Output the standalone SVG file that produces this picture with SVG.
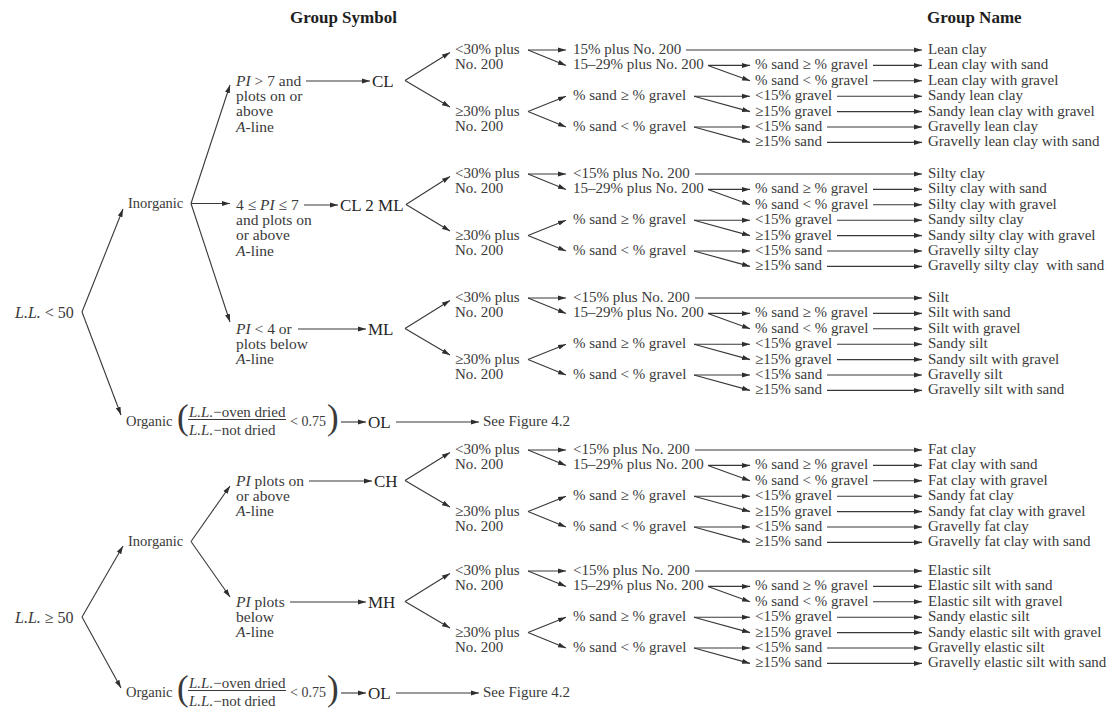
<svg xmlns="http://www.w3.org/2000/svg" width="1118" height="712" viewBox="0 0 1118 712">
  <style>
    text { font-family: "Liberation Serif", "Times New Roman", serif; font-size: 15px; fill: #3a3a3a; }
    .hd { font-size: 17px; font-weight: bold; fill: #1e1e1e; }
    .sym { font-size: 17px; fill: #262626; }
    .pi { font-size: 15.5px; }
    .ll { font-size: 16px; }
    .inorg { font-size: 14.5px; }
    .par { font-size: 35px; }
    .sm { font-size: 14px; }
    .i { font-style: italic; }
    .c { stroke: #383838; stroke-width: 1.1; fill: none; marker-end: url(#ah); }
    .bar { stroke: #3a3a3a; stroke-width: 1; fill: none; }
  </style>
  <defs>
    <marker id="ah" viewBox="0 0 8 6" refX="8" refY="3" markerWidth="8" markerHeight="6" markerUnits="userSpaceOnUse" orient="auto">
      <path d="M0,0.5 L8,3 L0,5.5 z" fill="#2e2e2e"/>
    </marker>
  </defs>
  <rect width="1118" height="712" fill="#ffffff"/>

  <!-- column headers -->
  <g id="hdr-symbol"><text class="hd" x="290" y="23">Group Symbol</text></g>
  <g id="hdr-name"><text class="hd" x="927" y="23">Group Name</text></g>

  <!-- liquid limit roots -->
  <g id="ll-lt50"><text class="ll" x="15" y="317.5"><tspan class="i">L.L.</tspan> &lt; 50</text></g>
  <g id="ll-ge50"><text class="ll" x="15" y="622.5"><tspan class="i">L.L.</tspan> ≥ 50</text></g>

  <g id="inorganic-low"><text class="inorg" x="128" y="208">Inorganic</text></g>
  <g id="inorganic-high"><text class="inorg" x="128" y="546">Inorganic</text></g>

  <!-- organic branches -->
  <g id="organic-low">
    <text class="inorg" x="126" y="426">Organic</text>
    <text class="par" x="177" y="429.3">(</text>
    <text x="189" y="417.4"><tspan class="i">L.L.</tspan>−oven dried</text>
    <path class="bar" d="M188,419.5 H286"/>
    <text x="189" y="434.7"><tspan class="i">L.L.</tspan>−not dried</text>
    <text class="sm" x="290" y="426">&lt; 0.75</text>
    <text class="par" x="327" y="429.3">)</text>
  </g>
  <g id="ol-low"><text class="sym" x="368" y="427.5">OL</text></g>
  <g id="seefig-low"><text x="483" y="426">See Figure 4.2</text></g>

  <g id="organic-high">
    <text class="inorg" x="126" y="697">Organic</text>
    <text class="par" x="177" y="700.3">(</text>
    <text x="189" y="688.4"><tspan class="i">L.L.</tspan>−oven dried</text>
    <path class="bar" d="M188,690.5 H286"/>
    <text x="189" y="705.7"><tspan class="i">L.L.</tspan>−not dried</text>
    <text class="sm" x="290" y="697">&lt; 0.75</text>
    <text class="par" x="327" y="700.3">)</text>
  </g>
  <g id="ol-high"><text class="sym" x="368" y="698.5">OL</text></g>
  <g id="seefig-high"><text x="483" y="697">See Figure 4.2</text></g>

  <!-- plasticity conditions -->
  <g id="pi-cl">
    <text class="pi" x="236" y="85.5"><tspan class="i">PI</tspan> &gt; 7 and</text>
    <text class="pi" x="236" y="100.9">plots on or</text>
    <text class="pi" x="236" y="116.3">above</text>
    <text class="pi" x="236" y="131.7"><tspan class="i">A</tspan>-line</text>
  </g>
  <g id="pi-clml">
    <text class="pi" x="236" y="209.5">4 ≤ <tspan class="i">PI</tspan> ≤ 7</text>
    <text class="pi" x="236" y="224.9">and plots on</text>
    <text class="pi" x="236" y="240.3">or above</text>
    <text class="pi" x="236" y="255.7"><tspan class="i">A</tspan>-line</text>
  </g>
  <g id="pi-ml">
    <text class="pi" x="236" y="333.5"><tspan class="i">PI</tspan> &lt; 4 or</text>
    <text class="pi" x="236" y="348.9">plots below</text>
    <text class="pi" x="236" y="364.3"><tspan class="i">A</tspan>-line</text>
  </g>
  <g id="pi-ch">
    <text class="pi" x="236" y="485.5"><tspan class="i">PI</tspan> plots on</text>
    <text class="pi" x="236" y="500.9">or above</text>
    <text class="pi" x="236" y="516.3"><tspan class="i">A</tspan>-line</text>
  </g>
  <g id="pi-mh">
    <text class="pi" x="236" y="606.5"><tspan class="i">PI</tspan> plots</text>
    <text class="pi" x="236" y="621.9">below</text>
    <text class="pi" x="236" y="637.3"><tspan class="i">A</tspan>-line</text>
  </g>

  <!-- group symbols -->
  <g id="sym-cl"><text class="sym" x="372" y="86.5">CL</text></g>
  <g id="sym-clml"><text class="sym" x="340" y="210.5">CL 2 ML</text></g>
  <g id="sym-ml"><text class="sym" x="368" y="334.5">ML</text></g>
  <g id="sym-ch"><text class="sym" x="374" y="486.5">CH</text></g>
  <g id="sym-mh"><text class="sym" x="368" y="607.5">MH</text></g>

  <!-- ===== CL block ===== -->
  <g id="cl-fines-lt30"><text x="455" y="54">&lt;30% plus</text><text x="455" y="69.4">No. 200</text></g>
  <g id="cl-fines-ge30"><text x="455" y="115.6">≥30% plus</text><text x="455" y="131">No. 200</text></g>
  <g id="cl-a"><text x="573" y="54">15% plus No. 200</text></g>
  <g id="cl-b"><text x="573" y="69.4">15–29% plus No. 200</text></g>
  <g id="cl-c"><text x="573" y="100.2">% sand ≥ % gravel</text></g>
  <g id="cl-d"><text x="573" y="131">% sand &lt; % gravel</text></g>
  <g id="cl-e1"><text x="755" y="69.4">% sand ≥ % gravel</text></g>
  <g id="cl-e2"><text x="755" y="84.8">% sand &lt; % gravel</text></g>
  <g id="cl-e3"><text x="755" y="100.2">&lt;15% gravel</text></g>
  <g id="cl-e4"><text x="755" y="115.6">≥15% gravel</text></g>
  <g id="cl-e5"><text x="755" y="131">&lt;15% sand</text></g>
  <g id="cl-e6"><text x="755" y="146.4">≥15% sand</text></g>
  <g id="cl-n0"><text x="928" y="54">Lean clay</text></g>
  <g id="cl-n1"><text x="928" y="69.4">Lean clay with sand</text></g>
  <g id="cl-n2"><text x="928" y="84.8">Lean clay with gravel</text></g>
  <g id="cl-n3"><text x="928" y="100.2">Sandy lean clay</text></g>
  <g id="cl-n4"><text x="928" y="115.6">Sandy lean clay with gravel</text></g>
  <g id="cl-n5"><text x="928" y="131">Gravelly lean clay</text></g>
  <g id="cl-n6"><text x="928" y="146.4">Gravelly lean clay with sand</text></g>

  <!-- ===== CL-ML block ===== -->
  <g id="clml-fines-lt30"><text x="455" y="178">&lt;30% plus</text><text x="455" y="193.4">No. 200</text></g>
  <g id="clml-fines-ge30"><text x="455" y="239.6">≥30% plus</text><text x="455" y="255">No. 200</text></g>
  <g id="clml-a"><text x="573" y="178">&lt;15% plus No. 200</text></g>
  <g id="clml-b"><text x="573" y="193.4">15–29% plus No. 200</text></g>
  <g id="clml-c"><text x="573" y="224.2">% sand ≥ % gravel</text></g>
  <g id="clml-d"><text x="573" y="255">% sand &lt; % gravel</text></g>
  <g id="clml-e1"><text x="755" y="193.4">% sand ≥ % gravel</text></g>
  <g id="clml-e2"><text x="755" y="208.8">% sand &lt; % gravel</text></g>
  <g id="clml-e3"><text x="755" y="224.2">&lt;15% gravel</text></g>
  <g id="clml-e4"><text x="755" y="239.6">≥15% gravel</text></g>
  <g id="clml-e5"><text x="755" y="255">&lt;15% sand</text></g>
  <g id="clml-e6"><text x="755" y="270.4">≥15% sand</text></g>
  <g id="clml-n0"><text x="928" y="178">Silty clay</text></g>
  <g id="clml-n1"><text x="928" y="193.4">Silty clay with sand</text></g>
  <g id="clml-n2"><text x="928" y="208.8">Silty clay with gravel</text></g>
  <g id="clml-n3"><text x="928" y="224.2">Sandy silty clay</text></g>
  <g id="clml-n4"><text x="928" y="239.6">Sandy silty clay with gravel</text></g>
  <g id="clml-n5"><text x="928" y="255">Gravelly silty clay</text></g>
  <g id="clml-n6"><text x="928" y="270.4" xml:space="preserve">Gravelly silty clay  with sand</text></g>

  <!-- ===== ML block ===== -->
  <g id="ml-fines-lt30"><text x="455" y="302">&lt;30% plus</text><text x="455" y="317.4">No. 200</text></g>
  <g id="ml-fines-ge30"><text x="455" y="363.6">≥30% plus</text><text x="455" y="379">No. 200</text></g>
  <g id="ml-a"><text x="573" y="302">&lt;15% plus No. 200</text></g>
  <g id="ml-b"><text x="573" y="317.4">15–29% plus No. 200</text></g>
  <g id="ml-c"><text x="573" y="348.2">% sand ≥ % gravel</text></g>
  <g id="ml-d"><text x="573" y="379">% sand &lt; % gravel</text></g>
  <g id="ml-e1"><text x="755" y="317.4">% sand ≥ % gravel</text></g>
  <g id="ml-e2"><text x="755" y="332.8">% sand &lt; % gravel</text></g>
  <g id="ml-e3"><text x="755" y="348.2">&lt;15% gravel</text></g>
  <g id="ml-e4"><text x="755" y="363.6">≥15% gravel</text></g>
  <g id="ml-e5"><text x="755" y="379">&lt;15% sand</text></g>
  <g id="ml-e6"><text x="755" y="394.4">≥15% sand</text></g>
  <g id="ml-n0"><text x="928" y="302">Silt</text></g>
  <g id="ml-n1"><text x="928" y="317.4">Silt with sand</text></g>
  <g id="ml-n2"><text x="928" y="332.8">Silt with gravel</text></g>
  <g id="ml-n3"><text x="928" y="348.2">Sandy silt</text></g>
  <g id="ml-n4"><text x="928" y="363.6">Sandy silt with gravel</text></g>
  <g id="ml-n5"><text x="928" y="379">Gravelly silt</text></g>
  <g id="ml-n6"><text x="928" y="394.4">Gravelly silt with sand</text></g>

  <!-- ===== CH block ===== -->
  <g id="ch-fines-lt30"><text x="455" y="454">&lt;30% plus</text><text x="455" y="469.4">No. 200</text></g>
  <g id="ch-fines-ge30"><text x="455" y="515.6">≥30% plus</text><text x="455" y="531">No. 200</text></g>
  <g id="ch-a"><text x="573" y="454">&lt;15% plus No. 200</text></g>
  <g id="ch-b"><text x="573" y="469.4">15–29% plus No. 200</text></g>
  <g id="ch-c"><text x="573" y="500.2">% sand ≥ % gravel</text></g>
  <g id="ch-d"><text x="573" y="531">% sand &lt; % gravel</text></g>
  <g id="ch-e1"><text x="755" y="469.4">% sand ≥ % gravel</text></g>
  <g id="ch-e2"><text x="755" y="484.8">% sand &lt; % gravel</text></g>
  <g id="ch-e3"><text x="755" y="500.2">&lt;15% gravel</text></g>
  <g id="ch-e4"><text x="755" y="515.6">≥15% gravel</text></g>
  <g id="ch-e5"><text x="755" y="531">&lt;15% sand</text></g>
  <g id="ch-e6"><text x="755" y="546.4">≥15% sand</text></g>
  <g id="ch-n0"><text x="928" y="454">Fat clay</text></g>
  <g id="ch-n1"><text x="928" y="469.4">Fat clay with sand</text></g>
  <g id="ch-n2"><text x="928" y="484.8">Fat clay with gravel</text></g>
  <g id="ch-n3"><text x="928" y="500.2">Sandy fat clay</text></g>
  <g id="ch-n4"><text x="928" y="515.6">Sandy fat clay with gravel</text></g>
  <g id="ch-n5"><text x="928" y="531">Gravelly fat clay</text></g>
  <g id="ch-n6"><text x="928" y="546.4">Gravelly fat clay with sand</text></g>

  <!-- ===== MH block ===== -->
  <g id="mh-fines-lt30"><text x="455" y="575">&lt;30% plus</text><text x="455" y="590.4">No. 200</text></g>
  <g id="mh-fines-ge30"><text x="455" y="636.6">≥30% plus</text><text x="455" y="652">No. 200</text></g>
  <g id="mh-a"><text x="573" y="575">&lt;15% plus No. 200</text></g>
  <g id="mh-b"><text x="573" y="590.4">15–29% plus No. 200</text></g>
  <g id="mh-c"><text x="573" y="621.2">% sand ≥ % gravel</text></g>
  <g id="mh-d"><text x="573" y="652">% sand &lt; % gravel</text></g>
  <g id="mh-e1"><text x="755" y="590.4">% sand ≥ % gravel</text></g>
  <g id="mh-e2"><text x="755" y="605.8">% sand &lt; % gravel</text></g>
  <g id="mh-e3"><text x="755" y="621.2">&lt;15% gravel</text></g>
  <g id="mh-e4"><text x="755" y="636.6">≥15% gravel</text></g>
  <g id="mh-e5"><text x="755" y="652">&lt;15% sand</text></g>
  <g id="mh-e6"><text x="755" y="667.4">≥15% sand</text></g>
  <g id="mh-n0"><text x="928" y="575">Elastic silt</text></g>
  <g id="mh-n1"><text x="928" y="590.4">Elastic silt with sand</text></g>
  <g id="mh-n2"><text x="928" y="605.8">Elastic silt with gravel</text></g>
  <g id="mh-n3"><text x="928" y="621.2">Sandy elastic silt</text></g>
  <g id="mh-n4"><text x="928" y="636.6">Sandy elastic silt with gravel</text></g>
  <g id="mh-n5"><text x="928" y="652">Gravelly elastic silt</text></g>
  <g id="mh-n6"><text x="928" y="667.4">Gravelly elastic silt with sand</text></g>

  <!-- all arrows -->
  <g id="connectors">
    <!-- roots -->
    <path class="c" d="M82,312 L123,209"/>
    <path class="c" d="M82,312 L121,415"/>
    <path class="c" d="M82,617 L123,546"/>
    <path class="c" d="M82,617 L121,688"/>
    <!-- inorganic forks -->
    <path class="c" d="M191,203.5 L230,85"/>
    <path class="c" d="M191,203.5 H230"/>
    <path class="c" d="M191,203.5 L230,322"/>
    <path class="c" d="M191,541.5 L230,486"/>
    <path class="c" d="M191,541.5 L230,597"/>
    <!-- organic rows -->
    <path class="c" d="M341,422 H366"/>
    <path class="c" d="M396,422 H479"/>
    <path class="c" d="M341,693 H366"/>
    <path class="c" d="M396,693 H479"/>
    <!-- condition to symbol -->
    <path class="c" d="M306,81 H370"/>
    <path class="c" d="M304,205 H338"/>
    <path class="c" d="M298,329 H366"/>
    <path class="c" d="M309,481 H372"/>
    <path class="c" d="M290,602 H366"/>

    <!-- CL block -->
    <path class="c" d="M405,80.5 L450,52.5"/>
    <path class="c" d="M405,80.5 L450,107"/>
    <path class="c" d="M528,50 H566"/>
    <path class="c" d="M528,50 L566,65.4"/>
    <path class="c" d="M528,111.6 L566,96.2"/>
    <path class="c" d="M528,111.6 L566,127"/>
    <path class="c" d="M686,50 H922"/>
    <path class="c" d="M708,65.4 H750"/>
    <path class="c" d="M708,65.4 L750,80.8"/>
    <path class="c" d="M694,96.2 H750"/>
    <path class="c" d="M694,96.2 L750,111.6"/>
    <path class="c" d="M694,127 H750"/>
    <path class="c" d="M694,127 L750,142.4"/>
    <path class="c" d="M873,65.4 H922"/>
    <path class="c" d="M873,80.8 H922"/>
    <path class="c" d="M837,96.2 H922"/>
    <path class="c" d="M837,111.6 H922"/>
    <path class="c" d="M827,127 H922"/>
    <path class="c" d="M827,142.4 H922"/>

    <!-- CL-ML block -->
    <path class="c" d="M406,204.5 L450,176.5"/>
    <path class="c" d="M406,204.5 L450,231"/>
    <path class="c" d="M528,174 H566"/>
    <path class="c" d="M528,174 L566,189.4"/>
    <path class="c" d="M528,235.6 L566,220.2"/>
    <path class="c" d="M528,235.6 L566,251"/>
    <path class="c" d="M695,174 H922"/>
    <path class="c" d="M708,189.4 H750"/>
    <path class="c" d="M708,189.4 L750,204.8"/>
    <path class="c" d="M694,220.2 H750"/>
    <path class="c" d="M694,220.2 L750,235.6"/>
    <path class="c" d="M694,251 H750"/>
    <path class="c" d="M694,251 L750,266.4"/>
    <path class="c" d="M873,189.4 H922"/>
    <path class="c" d="M873,204.8 H922"/>
    <path class="c" d="M837,220.2 H922"/>
    <path class="c" d="M837,235.6 H922"/>
    <path class="c" d="M827,251 H922"/>
    <path class="c" d="M827,266.4 H922"/>

    <!-- ML block -->
    <path class="c" d="M405,328.5 L450,300.5"/>
    <path class="c" d="M405,328.5 L450,355"/>
    <path class="c" d="M528,298 H566"/>
    <path class="c" d="M528,298 L566,313.4"/>
    <path class="c" d="M528,359.6 L566,344.2"/>
    <path class="c" d="M528,359.6 L566,375"/>
    <path class="c" d="M695,298 H922"/>
    <path class="c" d="M708,313.4 H750"/>
    <path class="c" d="M708,313.4 L750,328.8"/>
    <path class="c" d="M694,344.2 H750"/>
    <path class="c" d="M694,344.2 L750,359.6"/>
    <path class="c" d="M694,375 H750"/>
    <path class="c" d="M694,375 L750,390.4"/>
    <path class="c" d="M873,313.4 H922"/>
    <path class="c" d="M873,328.8 H922"/>
    <path class="c" d="M837,344.2 H922"/>
    <path class="c" d="M837,359.6 H922"/>
    <path class="c" d="M827,375 H922"/>
    <path class="c" d="M827,390.4 H922"/>

    <!-- CH block -->
    <path class="c" d="M405,480.5 L450,452.5"/>
    <path class="c" d="M405,480.5 L450,507"/>
    <path class="c" d="M528,450 H566"/>
    <path class="c" d="M528,450 L566,465.4"/>
    <path class="c" d="M528,511.6 L566,496.2"/>
    <path class="c" d="M528,511.6 L566,527"/>
    <path class="c" d="M695,450 H922"/>
    <path class="c" d="M708,465.4 H750"/>
    <path class="c" d="M708,465.4 L750,480.8"/>
    <path class="c" d="M694,496.2 H750"/>
    <path class="c" d="M694,496.2 L750,511.6"/>
    <path class="c" d="M694,527 H750"/>
    <path class="c" d="M694,527 L750,542.4"/>
    <path class="c" d="M873,465.4 H922"/>
    <path class="c" d="M873,480.8 H922"/>
    <path class="c" d="M837,496.2 H922"/>
    <path class="c" d="M837,511.6 H922"/>
    <path class="c" d="M827,527 H922"/>
    <path class="c" d="M827,542.4 H922"/>

    <!-- MH block -->
    <path class="c" d="M405,601.5 L450,573.5"/>
    <path class="c" d="M405,601.5 L450,628"/>
    <path class="c" d="M528,571 H566"/>
    <path class="c" d="M528,571 L566,586.4"/>
    <path class="c" d="M528,632.6 L566,617.2"/>
    <path class="c" d="M528,632.6 L566,648"/>
    <path class="c" d="M695,571 H922"/>
    <path class="c" d="M708,586.4 H750"/>
    <path class="c" d="M708,586.4 L750,601.8"/>
    <path class="c" d="M694,617.2 H750"/>
    <path class="c" d="M694,617.2 L750,632.6"/>
    <path class="c" d="M694,648 H750"/>
    <path class="c" d="M694,648 L750,663.4"/>
    <path class="c" d="M873,586.4 H922"/>
    <path class="c" d="M873,601.8 H922"/>
    <path class="c" d="M837,617.2 H922"/>
    <path class="c" d="M837,632.6 H922"/>
    <path class="c" d="M827,648 H922"/>
    <path class="c" d="M827,663.4 H922"/>
  </g>
</svg>
